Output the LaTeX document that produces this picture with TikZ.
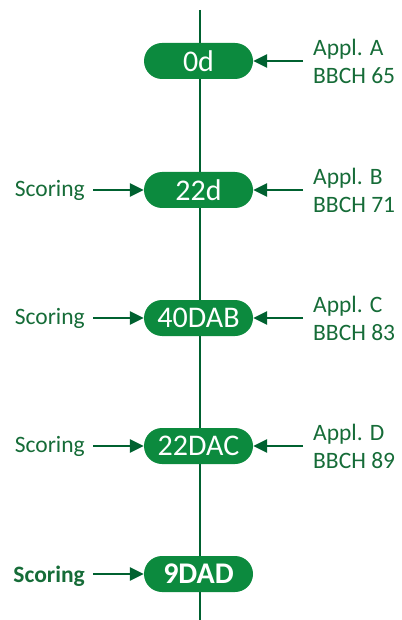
\documentclass[tikz,border=0pt]{standalone}
\usepackage{fontspec}
\setmainfont{Carlito}
\usetikzlibrary{arrows.meta}
\definecolor{boxfill}{RGB}{12,138,62}
\definecolor{linecol}{RGB}{0,97,48}
\definecolor{txtcol}{RGB}{22,108,56}
\tikzset{
  stage/.style={fill=boxfill, text=white, minimum width=109pt, minimum height=36pt, rounded corners=18pt, inner sep=0pt, font=\fontsize{30}{34}\selectfont},
  lbl/.style={text=txtcol, font=\fontsize{23.5}{28}\selectfont, inner sep=0pt},
  arr/.style={draw=linecol, line width=2.6pt, -{Triangle[length=14pt,width=13pt]}},
}
\begin{document}
\begin{tikzpicture}[x=1pt,y=-1pt]
\useasboundingbox (0,0) rectangle (401,620);
\coordinate (top) at (200,10);
\coordinate (bot) at (200,620);
\draw[linecol, line width=2.6pt] (top) -- (bot);
\node[stage] (s1) at (198.5,61) {0d};
\node[stage] (s2) at (198.5,190) {22d};
\node[stage] (s3) at (198.5,318) {40DAB};
\node[stage] (s4) at (198.5,446) {22DAC};
\node[stage, font=\fontsize{30}{34}\selectfont\bfseries] (s5) at (198.5,574) {9DAD};
% right labels
\node[lbl, anchor=west, align=left] (r1) at (313,61) {Appl. A\\BBCH 65};
\node[lbl, anchor=west, align=left] (r2) at (313,190) {Appl. B\\BBCH 71};
\node[lbl, anchor=west, align=left] (r3) at (313,318) {Appl. C\\BBCH 83};
\node[lbl, anchor=west, align=left] (r4) at (313,446) {Appl. D\\BBCH 89};
% left labels
\node[lbl, anchor=east] (l2) at (85,190) {Scoring};
\node[lbl, anchor=east] (l3) at (85,318) {Scoring};
\node[lbl, anchor=east] (l4) at (85,446) {Scoring};
\node[lbl, anchor=east, font=\fontsize{23.5}{28}\selectfont\bfseries] (l5) at (85,576) {Scoring};
% arrow start coordinates
\foreach \i/\y in {1/61,2/190,3/318,4/446} {
  \coordinate (ra\i) at (303,\y);
}
\foreach \i/\y in {2/190,3/318,4/446,5/574} {
  \coordinate (la\i) at (93,\y);
}
\draw[arr] (ra1) -- (s1.east);
\draw[arr] (ra2) -- (s2.east);
\draw[arr] (ra3) -- (s3.east);
\draw[arr] (ra4) -- (s4.east);
\draw[arr] (la2) -- (s2.west);
\draw[arr] (la3) -- (s3.west);
\draw[arr] (la4) -- (s4.west);
\draw[arr] (la5) -- (s5.west);
\end{tikzpicture}
\end{document}
